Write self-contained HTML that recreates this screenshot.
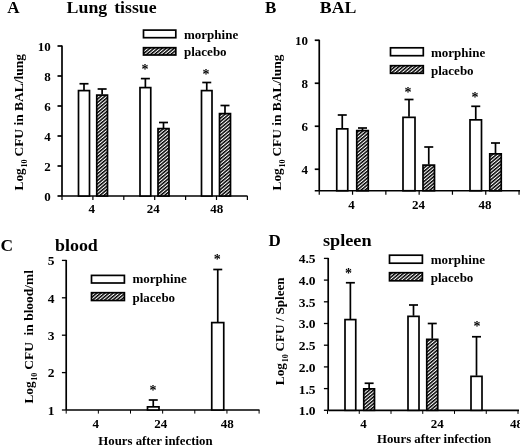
<!DOCTYPE html>
<html><head><meta charset="utf-8"><title>Figure</title>
<style>
html,body{margin:0;padding:0;background:#fff;}
svg{display:block;filter:blur(0.35px);}
text{font-family:"Liberation Serif","Times New Roman",serif;font-weight:bold;fill:#000;}
</style></head><body>
<svg width="520" height="447" viewBox="0 0 520 447">
<defs>
<pattern id="h" width="2.6" height="2.6" patternUnits="userSpaceOnUse" patternTransform="rotate(50)">
<rect width="2.6" height="2.6" fill="#fff"/>
<rect width="1.5" height="2.6" fill="#000"/>
</pattern>
</defs>
<rect width="520" height="447" fill="#fff"/>
<text x="7.3" y="13.4" font-size="17" text-anchor="start" >A</text>
<text y="13.4" font-size="17"><tspan x="66.6" textLength="40.6" lengthAdjust="spacingAndGlyphs">Lung</tspan> <tspan x="114.2" textLength="42.4" lengthAdjust="spacingAndGlyphs">tissue</tspan></text>
<line x1="62" y1="45.5" x2="62" y2="196" stroke="#000" stroke-width="1.7"/>
<line x1="62" y1="196" x2="247.5" y2="196" stroke="#000" stroke-width="1.7"/>
<line x1="57.5" y1="196.0" x2="62" y2="196.0" stroke="#000" stroke-width="1.7"/>
<text x="50.7" y="200.7" font-size="13" text-anchor="end" >0</text>
<line x1="57.5" y1="166.0" x2="62" y2="166.0" stroke="#000" stroke-width="1.7"/>
<text x="50.7" y="170.7" font-size="13" text-anchor="end" >2</text>
<line x1="57.5" y1="136.0" x2="62" y2="136.0" stroke="#000" stroke-width="1.7"/>
<text x="50.7" y="140.7" font-size="13" text-anchor="end" >4</text>
<line x1="57.5" y1="106.0" x2="62" y2="106.0" stroke="#000" stroke-width="1.7"/>
<text x="50.7" y="110.7" font-size="13" text-anchor="end" >6</text>
<line x1="57.5" y1="76.0" x2="62" y2="76.0" stroke="#000" stroke-width="1.7"/>
<text x="50.7" y="80.7" font-size="13" text-anchor="end" >8</text>
<line x1="57.5" y1="46.0" x2="62" y2="46.0" stroke="#000" stroke-width="1.7"/>
<text x="50.7" y="50.7" font-size="13" text-anchor="end" >10</text>
<line x1="62.0" y1="196" x2="62.0" y2="200" stroke="#000" stroke-width="1.2"/>
<line x1="92.9" y1="196" x2="92.9" y2="200" stroke="#000" stroke-width="1.2"/>
<line x1="123.8" y1="196" x2="123.8" y2="200" stroke="#000" stroke-width="1.2"/>
<line x1="154.7" y1="196" x2="154.7" y2="200" stroke="#000" stroke-width="1.2"/>
<line x1="185.6" y1="196" x2="185.6" y2="200" stroke="#000" stroke-width="1.2"/>
<line x1="216.5" y1="196" x2="216.5" y2="200" stroke="#000" stroke-width="1.2"/>
<line x1="247.39999999999998" y1="196" x2="247.39999999999998" y2="200" stroke="#000" stroke-width="1.2"/>
<text x="91.7" y="213" font-size="13" text-anchor="middle" >4</text>
<text x="153.3" y="213" font-size="13" text-anchor="middle" >24</text>
<text x="216.7" y="213" font-size="13" text-anchor="middle" >48</text>
<line x1="84.0" y1="83.75" x2="84.0" y2="90" stroke="#000" stroke-width="1.7"/>
<line x1="79.5" y1="83.75" x2="88.5" y2="83.75" stroke="#000" stroke-width="1.7"/>
<rect x="78.5" y="90.6" width="11.00" height="105.40" fill="#fff" stroke="#000" stroke-width="1.7"/>
<line x1="102.125" y1="89" x2="102.125" y2="94.5" stroke="#000" stroke-width="1.7"/>
<line x1="97.625" y1="89" x2="106.625" y2="89" stroke="#000" stroke-width="1.7"/>
<rect x="96.75" y="95.1" width="10.75" height="100.90" fill="url(#h)" stroke="#000" stroke-width="1.7"/>
<line x1="145.375" y1="78.6" x2="145.375" y2="87" stroke="#000" stroke-width="1.7"/>
<line x1="140.875" y1="78.6" x2="149.875" y2="78.6" stroke="#000" stroke-width="1.7"/>
<rect x="140.0" y="87.6" width="10.75" height="108.40" fill="#fff" stroke="#000" stroke-width="1.7"/>
<line x1="163.5" y1="122.5" x2="163.5" y2="128" stroke="#000" stroke-width="1.7"/>
<line x1="159.0" y1="122.5" x2="168.0" y2="122.5" stroke="#000" stroke-width="1.7"/>
<rect x="158.0" y="128.6" width="11.00" height="67.40" fill="url(#h)" stroke="#000" stroke-width="1.7"/>
<line x1="206.75" y1="82.5" x2="206.75" y2="90" stroke="#000" stroke-width="1.7"/>
<line x1="202.25" y1="82.5" x2="211.25" y2="82.5" stroke="#000" stroke-width="1.7"/>
<rect x="201.5" y="90.6" width="10.50" height="105.40" fill="#fff" stroke="#000" stroke-width="1.7"/>
<line x1="225.0" y1="105.5" x2="225.0" y2="113" stroke="#000" stroke-width="1.7"/>
<line x1="220.5" y1="105.5" x2="229.5" y2="105.5" stroke="#000" stroke-width="1.7"/>
<rect x="219.5" y="113.6" width="11.00" height="82.40" fill="url(#h)" stroke="#000" stroke-width="1.7"/>
<text x="145.1" y="74.0" font-size="14" text-anchor="middle" >*</text>
<text x="206.1" y="78.9" font-size="14" text-anchor="middle" >*</text>
<rect x="143.5" y="30.1" width="32.30" height="7.60" fill="#fff" stroke="#000" stroke-width="1.7"/>
<rect x="143.5" y="47.7" width="32.30" height="7.30" fill="url(#h)" stroke="#000" stroke-width="1.7"/>
<text x="184" y="39.3" font-size="13" text-anchor="start" >morphine</text>
<text x="184" y="55.9" font-size="13" text-anchor="start" >placebo</text>
<text transform="translate(23.1,190.4) rotate(-90)" font-size="13.3" xml:space="preserve"><tspan x="0" y="0">Log</tspan><tspan x="22.9" y="4.1" font-size="8">10</tspan><tspan x="33.8" y="0" textLength="102.6" lengthAdjust="spacingAndGlyphs">CFU in BAL/lung</tspan></text>
<text x="265" y="12.8" font-size="17" text-anchor="start" >B</text>
<text x="319.8" y="12.8" font-size="17" text-anchor="start" textLength="36.6" lengthAdjust="spacingAndGlyphs">BAL</text>
<line x1="319.25" y1="39.75" x2="319.25" y2="190.75" stroke="#000" stroke-width="1.7"/>
<line x1="314.75" y1="190.75" x2="520" y2="190.75" stroke="#000" stroke-width="1.7"/>
<line x1="314.75" y1="169.25" x2="319.25" y2="169.25" stroke="#000" stroke-width="1.7"/>
<text x="307.95" y="173.95" font-size="13" text-anchor="end" >4</text>
<line x1="314.75" y1="126.25" x2="319.25" y2="126.25" stroke="#000" stroke-width="1.7"/>
<text x="307.95" y="130.95" font-size="13" text-anchor="end" >6</text>
<line x1="314.75" y1="83.25" x2="319.25" y2="83.25" stroke="#000" stroke-width="1.7"/>
<text x="307.95" y="87.95" font-size="13" text-anchor="end" >8</text>
<line x1="314.75" y1="40.25" x2="319.25" y2="40.25" stroke="#000" stroke-width="1.7"/>
<text x="307.95" y="44.95" font-size="13" text-anchor="end" >10</text>
<line x1="319.25" y1="190.75" x2="319.25" y2="194.75" stroke="#000" stroke-width="1.2"/>
<line x1="352.55" y1="190.75" x2="352.55" y2="194.75" stroke="#000" stroke-width="1.2"/>
<line x1="385.85" y1="190.75" x2="385.85" y2="194.75" stroke="#000" stroke-width="1.2"/>
<line x1="419.15" y1="190.75" x2="419.15" y2="194.75" stroke="#000" stroke-width="1.2"/>
<line x1="452.45" y1="190.75" x2="452.45" y2="194.75" stroke="#000" stroke-width="1.2"/>
<line x1="485.75" y1="190.75" x2="485.75" y2="194.75" stroke="#000" stroke-width="1.2"/>
<line x1="519.05" y1="190.75" x2="519.05" y2="194.75" stroke="#000" stroke-width="1.2"/>
<text x="351.5" y="208.85" font-size="13" text-anchor="middle" >4</text>
<text x="418.5" y="208.85" font-size="13" text-anchor="middle" >24</text>
<text x="484.9" y="208.85" font-size="13" text-anchor="middle" >48</text>
<line x1="342.25" y1="115" x2="342.25" y2="128.25" stroke="#000" stroke-width="1.7"/>
<line x1="337.75" y1="115" x2="346.75" y2="115" stroke="#000" stroke-width="1.7"/>
<rect x="336.75" y="128.85" width="11.00" height="61.90" fill="#fff" stroke="#000" stroke-width="1.7"/>
<line x1="362.5" y1="128" x2="362.5" y2="130" stroke="#000" stroke-width="1.7"/>
<line x1="358.0" y1="128" x2="367.0" y2="128" stroke="#000" stroke-width="1.7"/>
<rect x="356.75" y="130.6" width="11.50" height="60.15" fill="url(#h)" stroke="#000" stroke-width="1.7"/>
<line x1="409.0" y1="99.5" x2="409.0" y2="116.75" stroke="#000" stroke-width="1.7"/>
<line x1="404.5" y1="99.5" x2="413.5" y2="99.5" stroke="#000" stroke-width="1.7"/>
<rect x="403.0" y="117.35" width="12.00" height="73.40" fill="#fff" stroke="#000" stroke-width="1.7"/>
<line x1="428.75" y1="147" x2="428.75" y2="164.5" stroke="#000" stroke-width="1.7"/>
<line x1="424.25" y1="147" x2="433.25" y2="147" stroke="#000" stroke-width="1.7"/>
<rect x="423.0" y="165.1" width="11.50" height="25.65" fill="url(#h)" stroke="#000" stroke-width="1.7"/>
<line x1="475.75" y1="106.3" x2="475.75" y2="119.25" stroke="#000" stroke-width="1.7"/>
<line x1="471.25" y1="106.3" x2="480.25" y2="106.3" stroke="#000" stroke-width="1.7"/>
<rect x="470.0" y="119.85" width="11.50" height="70.90" fill="#fff" stroke="#000" stroke-width="1.7"/>
<line x1="495.5" y1="143" x2="495.5" y2="153.25" stroke="#000" stroke-width="1.7"/>
<line x1="491.0" y1="143" x2="500.0" y2="143" stroke="#000" stroke-width="1.7"/>
<rect x="489.75" y="153.85" width="11.50" height="36.90" fill="url(#h)" stroke="#000" stroke-width="1.7"/>
<text x="408" y="96.9" font-size="14" text-anchor="middle" >*</text>
<text x="475" y="101.9" font-size="14" text-anchor="middle" >*</text>
<rect x="390.5" y="47.800000000000004" width="32.80" height="7.90" fill="#fff" stroke="#000" stroke-width="1.7"/>
<rect x="390.5" y="65.69999999999999" width="32.80" height="7.60" fill="url(#h)" stroke="#000" stroke-width="1.7"/>
<text x="431" y="57.2" font-size="13" text-anchor="start" >morphine</text>
<text x="431" y="74.7" font-size="13" text-anchor="start" >placebo</text>
<text transform="translate(281.1,190.4) rotate(-90)" font-size="13.3" xml:space="preserve"><tspan x="0" y="0">Log</tspan><tspan x="22.9" y="4.1" font-size="8">10</tspan><tspan x="33.8" y="0" textLength="102" lengthAdjust="spacingAndGlyphs">CFU in BAL/lung</tspan></text>
<text x="0.6" y="250.75" font-size="17.4" text-anchor="start" >C</text>
<text x="55" y="250.75" font-size="17" text-anchor="start" textLength="42.8" lengthAdjust="spacingAndGlyphs">blood</text>
<line x1="66.2" y1="259.9" x2="66.2" y2="410" stroke="#000" stroke-width="1.7"/>
<line x1="66.2" y1="410" x2="259.5" y2="410" stroke="#000" stroke-width="1.7"/>
<line x1="61.900000000000006" y1="410.0" x2="66.2" y2="410.0" stroke="#000" stroke-width="1.3"/>
<text x="54.6" y="414.8" font-size="13.5" text-anchor="end" >1</text>
<line x1="61.900000000000006" y1="372.6" x2="66.2" y2="372.6" stroke="#000" stroke-width="1.3"/>
<text x="54.6" y="377.40000000000003" font-size="13.5" text-anchor="end" >2</text>
<line x1="61.900000000000006" y1="335.2" x2="66.2" y2="335.2" stroke="#000" stroke-width="1.3"/>
<text x="54.6" y="340.0" font-size="13.5" text-anchor="end" >3</text>
<line x1="61.900000000000006" y1="297.8" x2="66.2" y2="297.8" stroke="#000" stroke-width="1.3"/>
<text x="54.6" y="302.6" font-size="13.5" text-anchor="end" >4</text>
<line x1="61.900000000000006" y1="260.4" x2="66.2" y2="260.4" stroke="#000" stroke-width="1.3"/>
<text x="54.6" y="265.2" font-size="13.5" text-anchor="end" >5</text>
<line x1="66.2" y1="410" x2="66.2" y2="413.6" stroke="#000" stroke-width="1.0"/>
<line x1="98.35" y1="410" x2="98.35" y2="413.6" stroke="#000" stroke-width="1.0"/>
<line x1="130.5" y1="410" x2="130.5" y2="413.6" stroke="#000" stroke-width="1.0"/>
<line x1="162.64999999999998" y1="410" x2="162.64999999999998" y2="413.6" stroke="#000" stroke-width="1.0"/>
<line x1="194.8" y1="410" x2="194.8" y2="413.6" stroke="#000" stroke-width="1.0"/>
<line x1="226.95" y1="410" x2="226.95" y2="413.6" stroke="#000" stroke-width="1.0"/>
<line x1="259.09999999999997" y1="410" x2="259.09999999999997" y2="413.6" stroke="#000" stroke-width="1.0"/>
<text x="95.8" y="428" font-size="13" text-anchor="middle" >4</text>
<text x="160.8" y="428" font-size="13" text-anchor="middle" >24</text>
<text x="227.3" y="428" font-size="13" text-anchor="middle" >48</text>
<line x1="153.25" y1="400" x2="153.25" y2="406.25" stroke="#000" stroke-width="1.7"/>
<line x1="148.75" y1="400" x2="157.75" y2="400" stroke="#000" stroke-width="1.7"/>
<rect x="147.5" y="406.85" width="11.50" height="3.15" fill="#fff" stroke="#000" stroke-width="1.7"/>
<line x1="217.75" y1="269.5" x2="217.75" y2="322" stroke="#000" stroke-width="1.7"/>
<line x1="213.25" y1="269.5" x2="222.25" y2="269.5" stroke="#000" stroke-width="1.7"/>
<rect x="211.75" y="322.6" width="12.00" height="87.40" fill="#fff" stroke="#000" stroke-width="1.7"/>
<text x="152.9" y="394.59999999999997" font-size="14" text-anchor="middle" >*</text>
<text x="217.3" y="263.9" font-size="14" text-anchor="middle" >*</text>
<rect x="91.5" y="275.40000000000003" width="32.90" height="7.60" fill="#fff" stroke="#000" stroke-width="1.7"/>
<rect x="91.5" y="292.70000000000005" width="32.90" height="7.80" fill="url(#h)" stroke="#000" stroke-width="1.7"/>
<text x="132.5" y="283.4" font-size="13" text-anchor="start" >morphine</text>
<text x="132.5" y="301.6" font-size="13" text-anchor="start" >placebo</text>
<text x="98.3" y="445.3" font-size="12.8" text-anchor="start" >Hours after infection</text>
<text transform="translate(32.8,403.6) rotate(-90)" font-size="13.3" xml:space="preserve"><tspan x="0" y="0">Log</tspan><tspan x="22.9" y="4.1" font-size="8">10</tspan><tspan x="33.8" y="0" textLength="99.8" lengthAdjust="spacingAndGlyphs">CFU  in blood/ml</tspan></text>
<text x="268.5" y="245.75" font-size="17" text-anchor="start" >D</text>
<text x="323" y="245.75" font-size="17" text-anchor="start" textLength="48.6" lengthAdjust="spacingAndGlyphs">spleen</text>
<line x1="328.2" y1="257.9" x2="328.2" y2="410.3" stroke="#000" stroke-width="1.7"/>
<line x1="328.2" y1="410.3" x2="519" y2="410.3" stroke="#000" stroke-width="1.7"/>
<line x1="323.9" y1="410.3" x2="328.2" y2="410.3" stroke="#000" stroke-width="1.3"/>
<text x="315.59999999999997" y="415.2" font-size="13.5" text-anchor="end" >1.0</text>
<line x1="323.9" y1="388.6" x2="328.2" y2="388.6" stroke="#000" stroke-width="1.3"/>
<text x="315.59999999999997" y="393.5" font-size="13.5" text-anchor="end" >1.5</text>
<line x1="323.9" y1="366.90000000000003" x2="328.2" y2="366.90000000000003" stroke="#000" stroke-width="1.3"/>
<text x="315.59999999999997" y="371.8" font-size="13.5" text-anchor="end" >2.0</text>
<line x1="323.9" y1="345.20000000000005" x2="328.2" y2="345.20000000000005" stroke="#000" stroke-width="1.3"/>
<text x="315.59999999999997" y="350.1" font-size="13.5" text-anchor="end" >2.5</text>
<line x1="323.9" y1="323.5" x2="328.2" y2="323.5" stroke="#000" stroke-width="1.3"/>
<text x="315.59999999999997" y="328.4" font-size="13.5" text-anchor="end" >3.0</text>
<line x1="323.9" y1="301.8" x2="328.2" y2="301.8" stroke="#000" stroke-width="1.3"/>
<text x="315.59999999999997" y="306.7" font-size="13.5" text-anchor="end" >3.5</text>
<line x1="323.9" y1="280.1" x2="328.2" y2="280.1" stroke="#000" stroke-width="1.3"/>
<text x="315.59999999999997" y="285.0" font-size="13.5" text-anchor="end" >4.0</text>
<line x1="323.9" y1="258.4" x2="328.2" y2="258.4" stroke="#000" stroke-width="1.3"/>
<text x="315.59999999999997" y="263.29999999999995" font-size="13.5" text-anchor="end" >4.5</text>
<line x1="327.5" y1="410.3" x2="327.5" y2="413.90000000000003" stroke="#000" stroke-width="1.0"/>
<line x1="359.25" y1="410.3" x2="359.25" y2="413.90000000000003" stroke="#000" stroke-width="1.0"/>
<line x1="391.0" y1="410.3" x2="391.0" y2="413.90000000000003" stroke="#000" stroke-width="1.0"/>
<line x1="422.75" y1="410.3" x2="422.75" y2="413.90000000000003" stroke="#000" stroke-width="1.0"/>
<line x1="454.5" y1="410.3" x2="454.5" y2="413.90000000000003" stroke="#000" stroke-width="1.0"/>
<line x1="486.25" y1="410.3" x2="486.25" y2="413.90000000000003" stroke="#000" stroke-width="1.0"/>
<line x1="518.0" y1="410.3" x2="518.0" y2="413.90000000000003" stroke="#000" stroke-width="1.0"/>
<text x="363.5" y="428" font-size="13" text-anchor="middle" >4</text>
<text x="437.3" y="428" font-size="13" text-anchor="middle" >24</text>
<text x="516.5" y="428" font-size="13" text-anchor="middle" >48</text>
<line x1="350.375" y1="282.75" x2="350.375" y2="319" stroke="#000" stroke-width="1.7"/>
<line x1="345.875" y1="282.75" x2="354.875" y2="282.75" stroke="#000" stroke-width="1.7"/>
<rect x="345.0" y="319.6" width="10.75" height="90.70" fill="#fff" stroke="#000" stroke-width="1.7"/>
<line x1="369.125" y1="383.25" x2="369.125" y2="388.25" stroke="#000" stroke-width="1.7"/>
<line x1="364.625" y1="383.25" x2="373.625" y2="383.25" stroke="#000" stroke-width="1.7"/>
<rect x="363.75" y="388.85" width="10.75" height="21.45" fill="url(#h)" stroke="#000" stroke-width="1.7"/>
<line x1="413.5" y1="305" x2="413.5" y2="315.75" stroke="#000" stroke-width="1.7"/>
<line x1="409.0" y1="305" x2="418.0" y2="305" stroke="#000" stroke-width="1.7"/>
<rect x="408.0" y="316.35" width="11.00" height="93.95" fill="#fff" stroke="#000" stroke-width="1.7"/>
<line x1="432.25" y1="323.5" x2="432.25" y2="338.75" stroke="#000" stroke-width="1.7"/>
<line x1="427.75" y1="323.5" x2="436.75" y2="323.5" stroke="#000" stroke-width="1.7"/>
<rect x="426.75" y="339.35" width="11.00" height="70.95" fill="url(#h)" stroke="#000" stroke-width="1.7"/>
<line x1="476.5" y1="336.75" x2="476.5" y2="375.75" stroke="#000" stroke-width="1.7"/>
<line x1="472.0" y1="336.75" x2="481.0" y2="336.75" stroke="#000" stroke-width="1.7"/>
<rect x="471.0" y="376.35" width="11.00" height="33.95" fill="#fff" stroke="#000" stroke-width="1.7"/>
<text x="348.5" y="277.79999999999995" font-size="14" text-anchor="middle" >*</text>
<text x="477.1" y="331.09999999999997" font-size="14" text-anchor="middle" >*</text>
<rect x="389.5" y="255.2" width="32.90" height="8.00" fill="#fff" stroke="#000" stroke-width="1.7"/>
<rect x="389.5" y="272.70000000000005" width="32.90" height="8.10" fill="url(#h)" stroke="#000" stroke-width="1.7"/>
<text x="430.75" y="264.2" font-size="13" text-anchor="start" >morphine</text>
<text x="430.75" y="281.7" font-size="13" text-anchor="start" >placebo</text>
<text x="377" y="443.4" font-size="12.8" text-anchor="start" >Hours after infection</text>
<text transform="translate(283.8,385.2) rotate(-90)" font-size="13.3" xml:space="preserve"><tspan x="0" y="0">Log</tspan><tspan x="22.9" y="4.1" font-size="8">10</tspan><tspan x="33.8" y="0" textLength="74" lengthAdjust="spacingAndGlyphs">CFU / Spleen</tspan></text>
</svg>
</body></html>
